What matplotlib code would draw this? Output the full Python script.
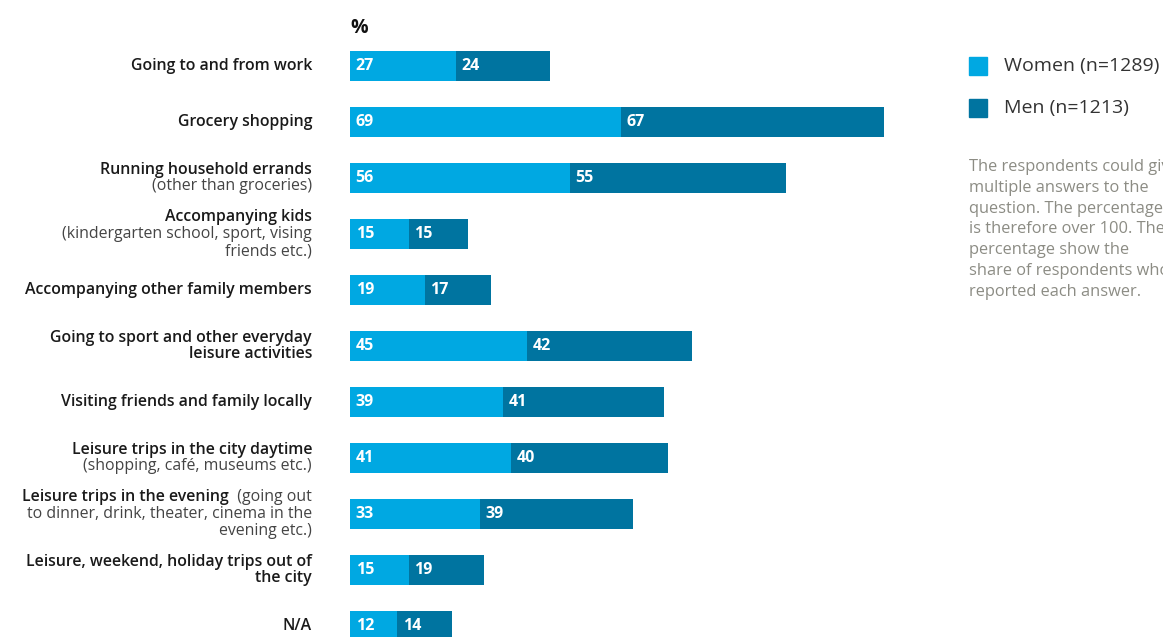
import matplotlib.pyplot as plt
from matplotlib.patches import Rectangle

plt.rcParams['font.family'] = ['Open Sans', 'DejaVu Sans']

# '|' switches from bold to normal text
categories = [
    'Going to and from work',
    'Grocery shopping',
    'Running household errands\n|(other than groceries)',
    'Accompanying kids\n|(kindergarten school, sport, vising\nfriends etc.)',
    'Accompanying other family members',
    'Going to sport and other everyday\nleisure activities',
    'Visiting friends and family locally',
    'Leisure trips in the city daytime\n|(shopping, café, museums etc.)',
    'Leisure trips in the evening|  (going out\nto dinner, drink, theater, cinema in the\nevening etc.)',
    'Leisure, weekend, holiday trips out of\nthe city',
    'N/A',
]
women = [27, 69, 56, 15, 19, 45, 39, 41, 33, 15, 12]
men = [24, 67, 55, 15, 17, 42, 41, 40, 39, 19, 14]
series_names = ['Women (n=1289)', 'Men (n=1213)']
note = ('The respondents could give\nmultiple answers to the\nquestion. The percentages\n'
        'is therefore over 100. The\npercentage show the\nshare of respondents who\n'
        'reported each answer.')

c_women = '#00a8e2'
c_men = '#0074a0'

W, H = 1163, 637
fig = plt.figure(figsize=(W / 100, H / 100), dpi=100)
ax = fig.add_axes([350 / W, 0, 610 / W, 1])
ax.set_xlim(0, 610 / 3.93)
ax.set_ylim((H - 66) / 56, -66 / 56)
ax.axis('off')

ys = list(range(len(categories)))
ax.barh(ys, women, height=0.54, color=c_women)
ax.barh(ys, men, left=women, height=0.54, color=c_men)
for y, w, m in zip(ys, women, men):
    ax.annotate(str(w), (0, y), xytext=(4, 0), textcoords='offset points',
                va='center', ha='left', color='white', fontsize=11.5, fontweight='bold')
    ax.annotate(str(m), (w, y), xytext=(4, 0), textcoords='offset points',
                va='center', ha='left', color='white', fontsize=11.5, fontweight='bold')

fig.text(350 / W, 1 - 28 / H, '%', fontsize=14, fontweight='bold', va='center', ha='left', color='#111111')

# category labels, right aligned at x = 312 px
renderer = fig.canvas.get_renderer()
x_right = 312
line_h = 17
for i, cat in enumerate(categories):
    lines = cat.split('\n')
    yc = 66 + 56 * i
    y0 = yc - line_h * (len(lines) - 1) / 2
    bold = True
    for k, line in enumerate(lines):
        parts = line.split('|')
        segs = []
        for j, p in enumerate(parts):
            if j > 0:
                bold = False
            if p:
                segs.append((p, bold))
        x = x_right
        ypix = y0 + k * line_h
        for txt, b in reversed(segs):
            t = fig.text(x / W, 1 - ypix / H, txt, ha='right', va='center', fontsize=11.4,
                         fontweight='semibold' if b else 'normal',
                         color='#1a1a1a' if b else '#444444')
            x -= t.get_window_extent(renderer).width

# legend
for k, (name, col) in enumerate(zip(series_names, [c_women, c_men])):
    yc = 66 + 42 * k
    fig.patches.append(Rectangle((969 / W, 1 - (yc + 9) / H), 18 / W, 18 / H,
                                 transform=fig.transFigure, color=col))
    fig.text(1004 / W, 1 - yc / H, name, ha='left', va='center', fontsize=14, color='#333333')

# note runs past the right edge, as in the original
fig.text(969 / W, 1 - 159 / H, note, ha='left', va='top', fontsize=11.8,
         color='#8c8c84', linespacing=1.4)

fig.savefig('out.png', dpi=100)
